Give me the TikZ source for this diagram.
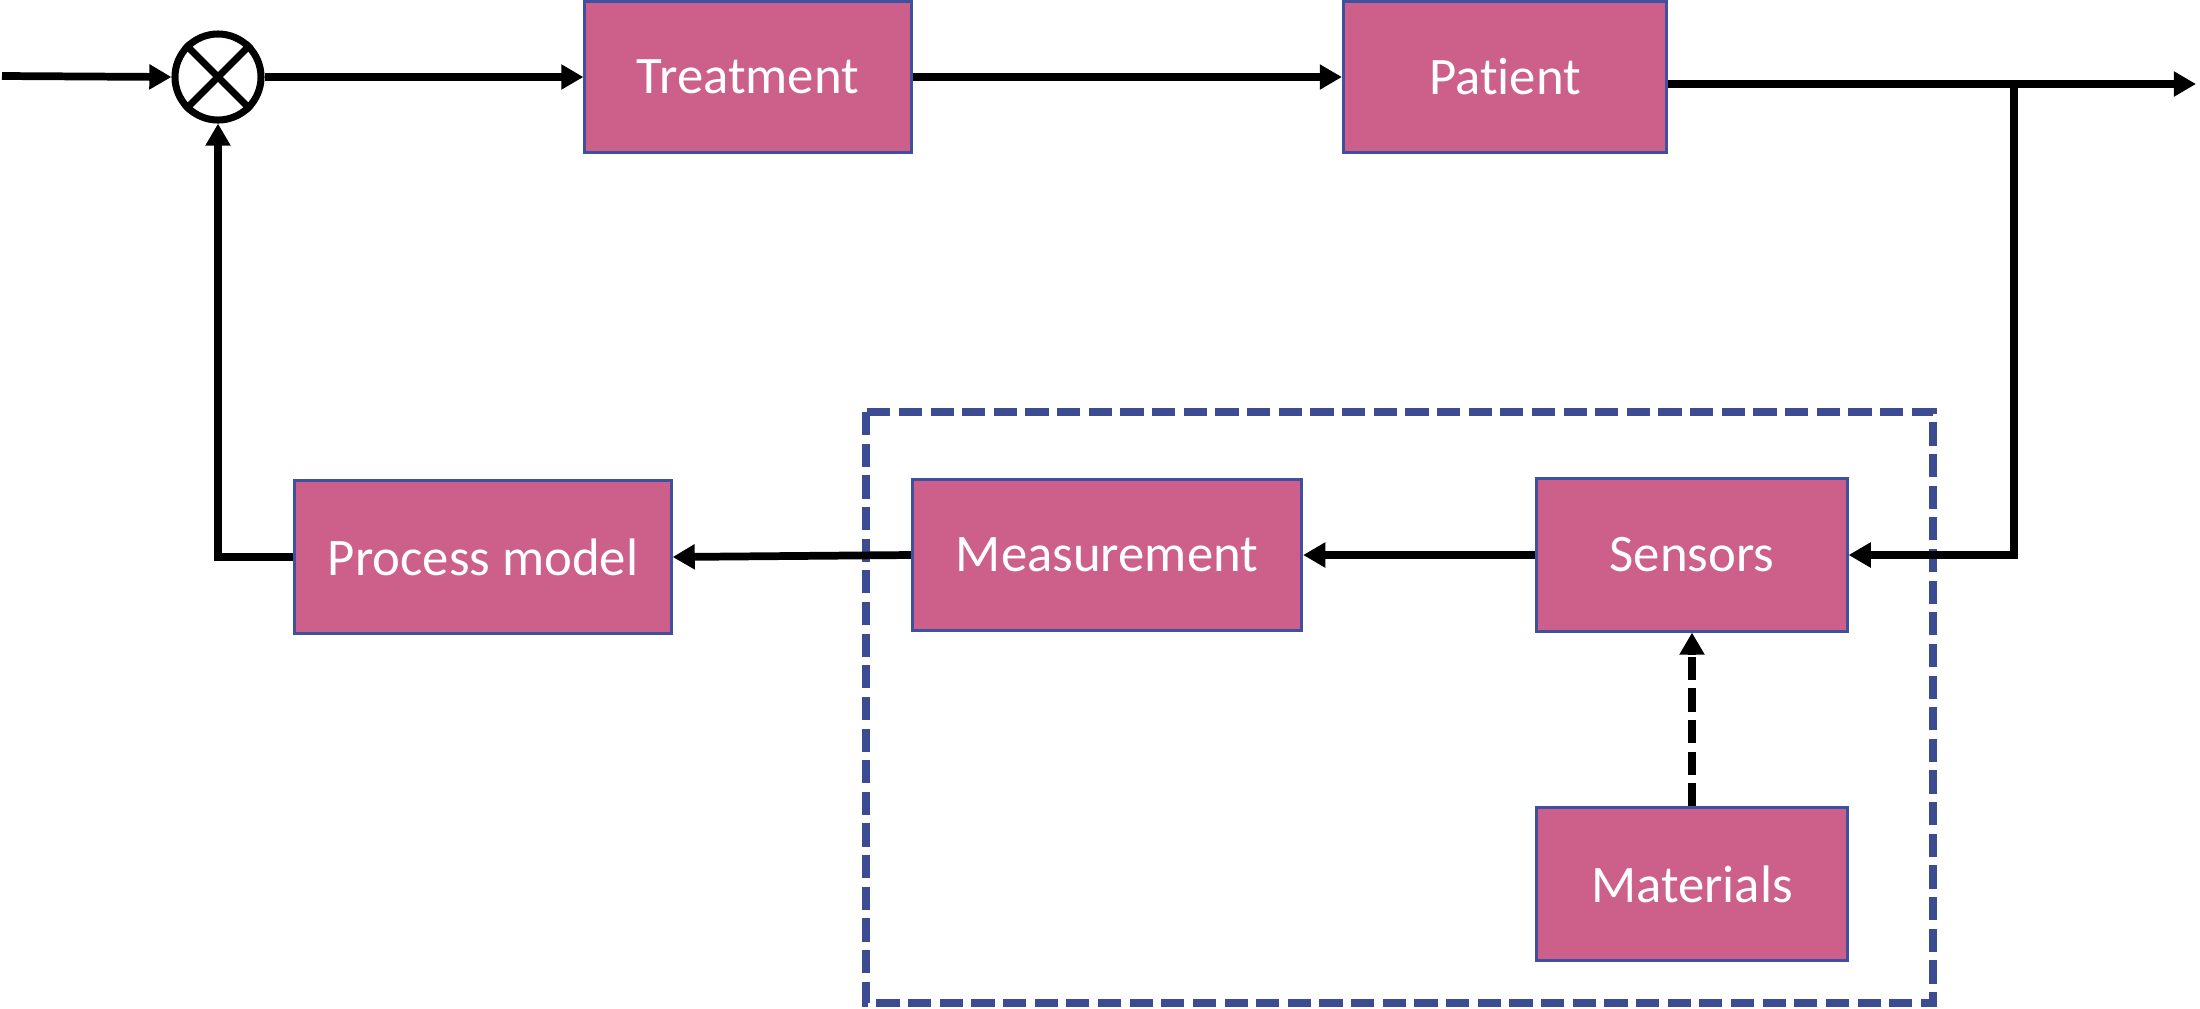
\documentclass[tikz,border=0pt]{standalone}
\usepackage{fontspec}
\setmainfont{Carlito}[Ligatures=NoCommon]
\usetikzlibrary{arrows.meta}
\definecolor{boxfill}{RGB}{205,95,139}
\definecolor{boxline}{RGB}{63,80,158}
\definecolor{dashblue}{RGB}{59,76,147}
\begin{document}
\begin{tikzpicture}[x=0.01cm,y=-0.01cm,
  blk/.style={draw=boxline,line width=0.85pt,fill=boxfill,text=white,inner sep=0pt,
    font=\fontsize{15}{18}\selectfont},
  conn/.style={line width=2.2pt,-{Triangle[length=6.3pt,width=6.8pt]}},
  tri/.style={-{Triangle[length=6.3pt,width=6.8pt]}}]
\useasboundingbox (0,0) rectangle (2200,1008);
% dashed group box
\draw[dashblue,line width=2.2pt,dash pattern=on 6.6pt off 2.4pt] (866,412) rectangle (1933,1003);
% summing junction
\node (sum) [circle,draw,line width=2pt,inner sep=0pt,minimum size=0.86cm] at (218,77) {};
\draw[line width=2pt] (sum.north west) -- (sum.south east) (sum.north east) -- (sum.south west);
% blocks
\node (treat) [blk,minimum width=3.26cm,minimum height=1.51cm] at (748,77) {Treatment};
\node (pat) [blk,minimum width=3.23cm,minimum height=1.51cm] at (1505,77) {Patient};
\node (proc) [blk,minimum width=3.76cm,minimum height=1.52cm] at (483,557) {Process model};
\node (meas) [blk,minimum width=3.89cm,minimum height=1.51cm] at (1107,555) {Measurement};
\node (sens) [blk,minimum width=3.10cm,minimum height=1.52cm] at (1692,555) {Sensors};
\node (mat) [blk,minimum width=3.10cm,minimum height=1.52cm] at (1692,884) {Materials};
% coordinates
\coordinate (in) at (2,76);
\coordinate (out) at (2196,84);
\coordinate (branch) at (2014,84);
\coordinate (fbcorner) at (218,557);
% connectors
\draw[conn] (in) -- (sum.west);
\draw[conn] (sum.east) -- (treat.west);
\draw[conn] (treat.east) -- (pat.west);
\draw[conn] (pat.east |- out) -- (out);
\draw[conn] (branch) -- (branch |- sens.east) -- (sens.east);
\draw[conn] (sens.west) -- (meas.east);
\draw[conn] (meas.west) -- (proc.east);
\draw[conn] (proc.west) -- (fbcorner) -- (sum.south);
\draw[line width=2.2pt,dash pattern=on 6.6pt off 2.4pt] (mat.north) -- ([yshift=-6pt]sens.south);
\draw[line width=2.2pt,tri] ([yshift=-6.5pt]sens.south) -- (sens.south);
\end{tikzpicture}
\end{document}
